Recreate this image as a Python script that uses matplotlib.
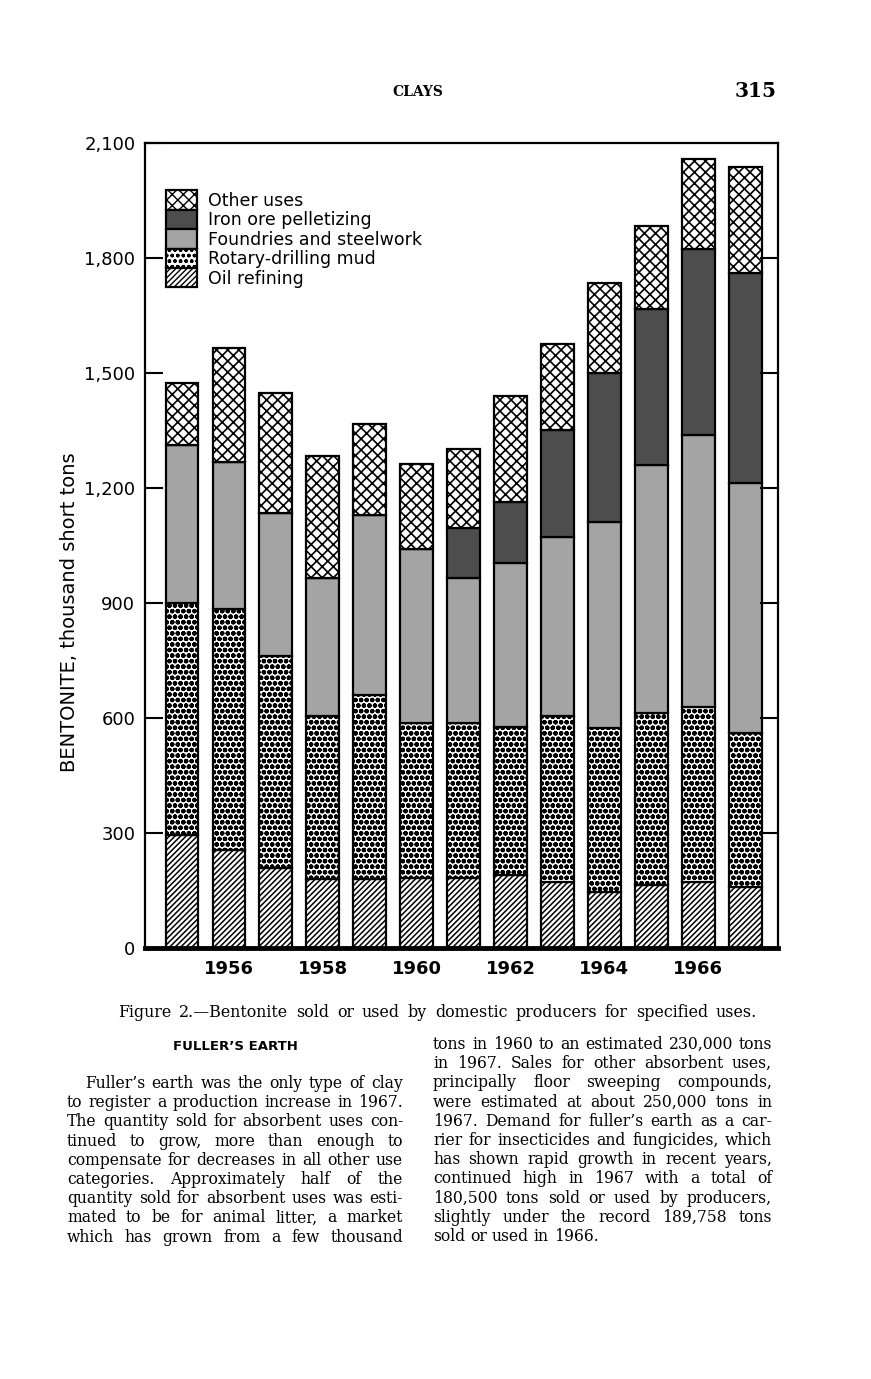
import matplotlib
matplotlib.use("Agg")
import matplotlib.pyplot as plt
import numpy as np

# ---------------- data (thousand short tons) ----------------
years = [1955, 1956, 1957, 1958, 1959, 1960, 1961, 1962, 1963, 1964, 1965, 1966, 1967]
oil_refining = [295, 256, 209, 180, 180, 183, 183, 190, 172, 146, 164, 172, 159]
drilling_mud = [605, 628, 553, 425, 480, 404, 404, 387, 433, 428, 449, 457, 402]
foundries = [412, 384, 373, 360, 470, 454, 378, 428, 467, 537, 647, 709, 652]
iron_ore = [0, 0, 0, 0, 0, 0, 131, 159, 279, 389, 407, 486, 548]
other_uses = [163, 297, 313, 319, 237, 222, 206, 276, 225, 235, 217, 234, 277]
series_labels = ["Oil refining", "Rotary-drilling mud", "Foundries and steelwork",
                 "Iron ore pelletizing", "Other uses"]
ytick_values = [0, 300, 600, 900, 1200, 1500, 1800, 2100]
ytick_labels = ["0", "300", "600", "900", "1,200", "1,500", "1,800", "2,100"]
xtick_years = [1956, 1958, 1960, 1962, 1964, 1966]

W, H = 871, 1379
fig = plt.figure(figsize=(W / 100, H / 100), dpi=100)
fig.patch.set_facecolor("white")

ax = fig.add_axes([145 / W, 1 - 948 / H, 633 / W, 805 / H])

plt.rcParams["hatch.linewidth"] = 1.0
styles = [
    dict(facecolor="white", hatch="//////", hatch_linewidth=1.1),
    dict(facecolor="white", hatch="ooo", hatch_linewidth=1.6),
    dict(facecolor="#a4a4a4"),
    dict(facecolor="#4d4d4d"),
    dict(facecolor="white", hatch="xxx", hatch_linewidth=1.2),
]
series = [oil_refining, drilling_mud, foundries, iron_ore, other_uses]
bottom = np.zeros(len(years))
handles = []
for vals, lab, st in zip(series, series_labels, styles):
    b = ax.bar(years, vals, width=0.70, bottom=bottom, edgecolor="black",
               linewidth=1.6, label=lab, **st)
    handles.append(b)
    bottom += np.array(vals, dtype=float)

ax.set_xlim(1954.21, 1967.70)
ax.set_ylim(0, 2100)
ax.set_yticks(ytick_values)
ax.set_yticklabels(ytick_labels, fontsize=13, family="DejaVu Sans")
ax.set_xticks(xtick_years)
ax.set_xticklabels([str(y) for y in xtick_years], fontsize=13, fontweight="bold",
                   family="DejaVu Sans")
ax.tick_params(axis="y", direction="in", length=13, width=1.5, right=True, pad=7)
ax.tick_params(axis="x", length=0, pad=9)
for s in ["left", "top", "right"]:
    ax.spines[s].set_linewidth(1.6)
ax.spines["bottom"].set_linewidth(3.5)

ax.set_ylabel("BENTONITE, thousand short tons", fontsize=14, family="DejaVu Sans")
ax.yaxis.set_label_coords(-0.105, 0.417)

leg = ax.legend(handles[::-1], series_labels[::-1], loc="upper left",
                bbox_to_anchor=(0.033, 0.941), frameon=False, labelspacing=0.0,
                handlelength=1.8, handleheight=1.33, handletextpad=0.6,
                borderpad=0, borderaxespad=0, prop=dict(family="DejaVu Sans", size=12.5))

# ---------------- page text ----------------
renderer = fig.canvas.get_renderer()
SERIF = "DejaVu Serif"


def natural_width(text, fs, family=SERIF):
    t = fig.text(0, 0, text, fontsize=fs, family=family)
    w = t.get_window_extent(renderer).width
    t.remove()
    return w


def place_line(text, x0, x1, ybase, fs, family=SERIF, weight="normal", justify=True):
    words = text.split(" ")
    arts = [fig.text(0, 0, w, fontsize=fs, family=family, weight=weight,
                     va="baseline", ha="left") for w in words]
    widths = [a.get_window_extent(renderer).width for a in arts]
    sw = natural_width("a a", fs, family) - natural_width("aa", fs, family)
    gap = sw
    if justify and len(words) > 1:
        gap = max((x1 - x0 - sum(widths)) / (len(words) - 1), 0.8 * sw)
    x = x0
    for a, w in zip(arts, widths):
        a.set_position((x / W, 1 - ybase / H))
        x += w + gap


fig.text(418 / W, 1 - 96 / H, "CLAYS", fontsize=10, family=SERIF, weight="bold",
         ha="center", va="baseline")
fig.text(777 / W, 1 - 97 / H, "315", fontsize=14.5, family=SERIF, weight="bold",
         ha="right", va="baseline")

caption = "Figure 2.\u2014Bentonite sold or used by domestic producers for specified uses."
cap_fs = 10 * (757 - 118) * 0.96 / natural_width(caption, 10)
place_line(caption, 118, 757, 1017, cap_fs)

fig.text(235 / W, 1 - 1050 / H, "FULLER\u2019S EARTH", fontsize=9.5, family="DejaVu Sans",
         weight="bold", ha="center", va="baseline")

left_col = [
    "Fuller\u2019s earth was the only type of clay",
    "to register a production increase in 1967.",
    "The quantity sold for absorbent uses con-",
    "tinued to grow, more than enough to",
    "compensate for decreases in all other use",
    "categories. Approximately half of the",
    "quantity sold for absorbent uses was esti-",
    "mated to be for animal litter, a market",
    "which has grown from a few thousand",
]
right_col = [
    "tons in 1960 to an estimated 230,000 tons",
    "in 1967. Sales for other absorbent uses,",
    "principally floor sweeping compounds,",
    "were estimated at about 250,000 tons in",
    "1967. Demand for fuller\u2019s earth as a car-",
    "rier for insecticides and fungicides, which",
    "has shown rapid growth in recent years,",
    "continued high in 1967 with a total of",
    "180,500 tons sold or used by producers,",
    "slightly under the record 189,758 tons",
    "sold or used in 1966.",
]
LX0, LX1, INDENT = 67, 403, 18
RX0, RX1 = 433, 772
ratios = []
for i, line in enumerate(left_col):
    x0 = LX0 + (INDENT if i == 0 else 0)
    ratios.append((LX1 - x0) / natural_width(line, 10))
for line in right_col[:-1]:
    ratios.append((RX1 - RX0) / natural_width(line, 10))
BODY = 10 * min(ratios) * 0.99

for i, line in enumerate(left_col):
    x0 = LX0 + (INDENT if i == 0 else 0)
    place_line(line, x0, LX1, 1088 + i * 19.2, BODY)
for i, line in enumerate(right_col):
    place_line(line, RX0, RX1, 1049 + i * 19.2, BODY, justify=(i < len(right_col) - 1))

fig.savefig("out.png", dpi=100, facecolor="white")
